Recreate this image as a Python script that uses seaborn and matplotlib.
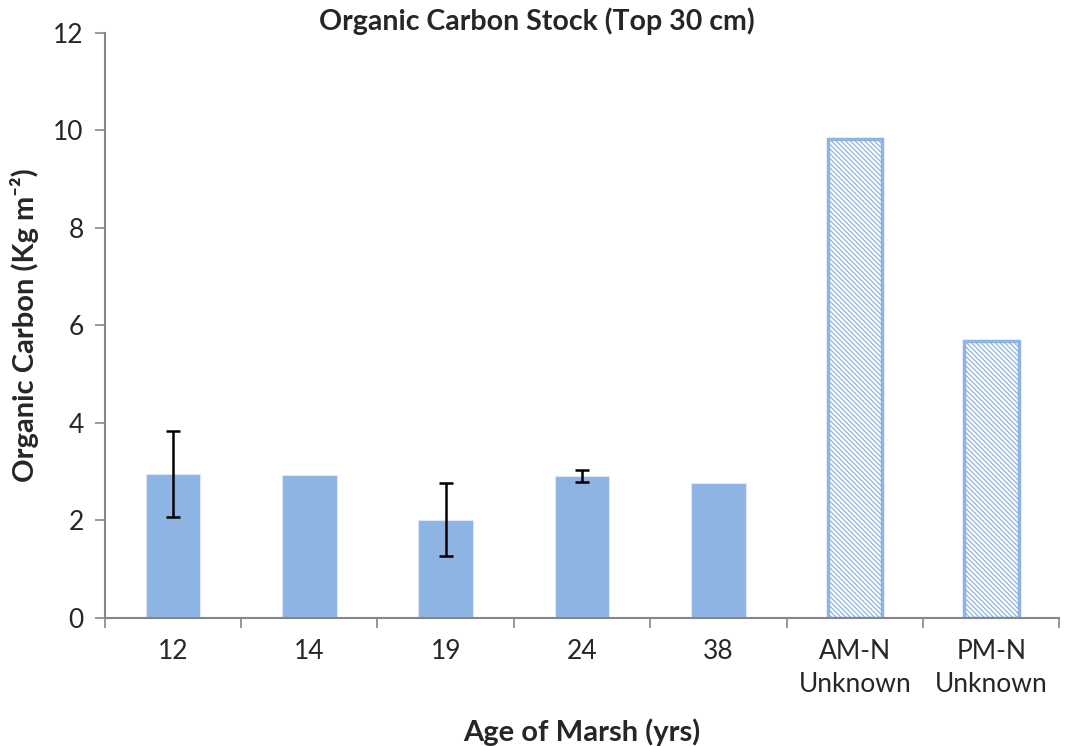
import pandas as pd
import matplotlib
matplotlib.use("Agg")
import matplotlib.pyplot as plt
import seaborn as sns

# Values
categories = ["12", "14", "19", "24", "38", "AM-N\nUnknown", "PM-N\nUnknown"]
carbon = [2.95, 2.93, 2.01, 2.91, 2.77, 9.82, 5.67]
errors = [0.88, 0.0, 0.75, 0.12, 0.0, 0.0, 0.0]
unknown_age = [False, False, False, False, False, True, True]

bar_color = "#8EB4E3"
axis_color = "#868686"

sns.set_theme(style="white")
plt.rcParams["font.family"] = ["Lato", "DejaVu Sans"]
plt.rcParams["hatch.color"] = bar_color
plt.rcParams["hatch.linewidth"] = 0.9

df = pd.DataFrame({"age": categories, "carbon": carbon})

fig, ax = plt.subplots(figsize=(10.68, 7.46), dpi=100)
sns.barplot(x="age", y="carbon", data=df, color=bar_color, saturation=1,
            width=0.4, errorbar=None, ax=ax)

# hatched outline bars for the unknown-age marshes
for bar, unknown in zip(ax.patches, unknown_age):
    if unknown:
        bar.set_facecolor("white")
        bar.set_edgecolor(bar_color)
        bar.set_linewidth(2.5)
        bar.set_hatch("\\\\\\\\\\\\\\")
    else:
        bar.set_edgecolor("#DCE8F6")
        bar.set_linewidth(0.8)

# error bars where there were replicate cores
for bar, val, err in zip(ax.patches, carbon, errors):
    if err > 0:
        ax.errorbar(bar.get_x() + bar.get_width() / 2, val, yerr=err,
                    fmt="none", ecolor="black", elinewidth=1.8,
                    capsize=5, capthick=1.8, zorder=5)

ax.set_ylim(0, 12)
ax.set_yticks(range(0, 13, 2))
ax.set_xlim(-0.5, len(categories) - 0.5)
ax.set_xticks([i - 0.5 for i in range(len(categories) + 1)], minor=True)
ax.tick_params(axis="x", which="major", length=0, pad=15, labelsize=19)
ax.tick_params(axis="x", which="minor", length=7, width=1.2, color=axis_color,
               direction="out", bottom=True)
ax.tick_params(axis="y", length=7, width=1.2, color=axis_color,
               direction="out", left=True, labelsize=19, pad=8)
for lab in ax.get_xticklabels():
    lab.set_linespacing(1.4)

for side in ["top", "right"]:
    ax.spines[side].set_visible(False)
for side in ["left", "bottom"]:
    ax.spines[side].set_color(axis_color)
    ax.spines[side].set_linewidth(1.5)

fig.suptitle("Organic Carbon Stock (Top 30 cm)", fontsize=20.5, fontweight="bold",
             x=0.503, y=0.99)
ax.set_xlabel("Age of Marsh (yrs)", fontsize=21, fontweight="bold", labelpad=16)
ax.set_ylabel("Organic Carbon (Kg m⁻²)", fontsize=21,
              fontweight="bold", labelpad=10)

fig.subplots_adjust(left=0.098, right=0.992, top=0.956, bottom=0.172)
fig.savefig("out.png", dpi=100)
